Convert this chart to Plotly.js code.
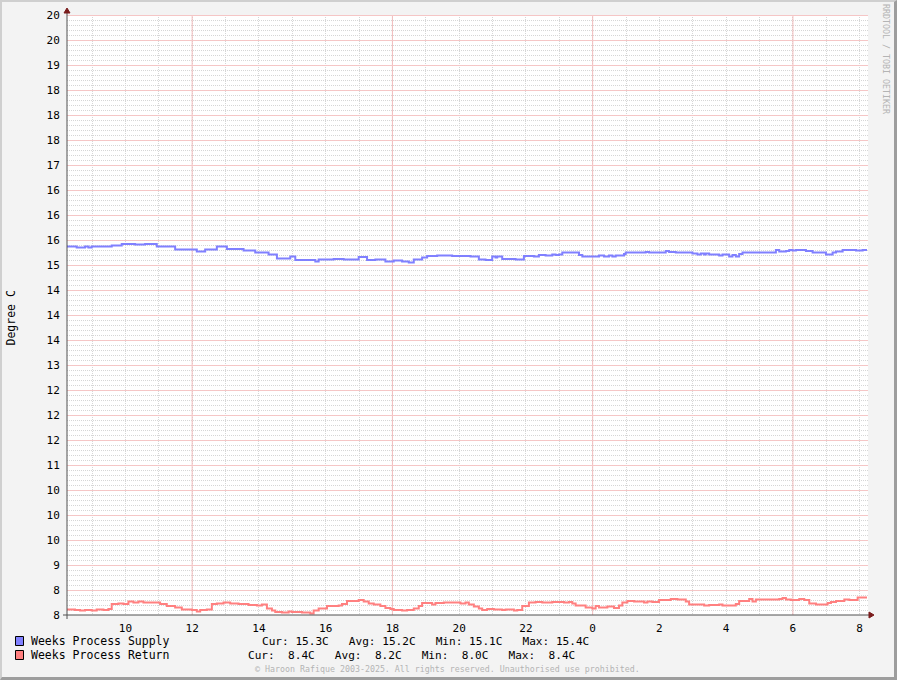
<!DOCTYPE html>
<html><head><meta charset="utf-8">
<script src="https://cdn.plot.ly/plotly-3.0.1.min.js"></script>
<style>
html,body{margin:0;padding:0;background:#f3f3f3;overflow:hidden;}
#wrap{position:relative;width:897px;height:680px;}
#chart{width:897px;height:680px;}
#frame{position:absolute;left:0;top:0;width:897px;height:680px;box-sizing:border-box;border-top:2px solid #cfcfcf;border-left:2px solid #cfcfcf;border-right:3px solid #9d9d9d;border-bottom:3px solid #9d9d9d;pointer-events:none;}
</style></head><body>
<div id="wrap"><div id="chart"></div><div id="frame"></div></div>
<script>
// ---- data (time in hours; 24 = midnight, 32 = 08:00 next day) ----
const supplyT = [8.25,8.54,8.79,8.89,8.99,9.59,9.89,10.29,10.59,10.94,11.49,12.14,12.39,12.74,13.04,13.54,13.89,14.29,14.54,14.94,15.09,15.69,15.79,16.24,16.54,16.99,17.24,17.49,17.79,18.04,18.29,18.49,18.64,18.89,19.04,19.34,19.79,20.34,20.59,20.79,20.99,21.09,21.14,21.29,21.69,21.94,22.24,22.39,22.59,22.79,22.89,22.99,23.09,23.59,23.69,24.19,24.34,24.49,24.59,24.69,24.94,24.99,25.59,25.69,26.19,26.29,26.49,26.99,27.14,27.24,27.34,27.39,27.49,27.79,27.89,28.09,28.19,28.29,28.39,28.49,29.49,29.59,29.79,29.89,29.99,30.09,30.39,30.59,30.99,31.19,31.29,31.49,31.89,32.09,32.22];
const supplyV = [15.37,15.35,15.37,15.35,15.37,15.39,15.42,15.41,15.42,15.37,15.31,15.27,15.31,15.37,15.32,15.29,15.25,15.21,15.13,15.17,15.10,15.07,15.11,15.12,15.11,15.16,15.10,15.11,15.07,15.09,15.07,15.05,15.11,15.15,15.18,15.19,15.18,15.17,15.11,15.10,15.17,15.15,15.17,15.12,15.11,15.18,15.17,15.20,15.19,15.21,15.20,15.21,15.25,15.20,15.17,15.19,15.17,15.19,15.17,15.19,15.22,15.25,15.26,15.25,15.28,15.26,15.25,15.23,15.21,15.23,15.21,15.23,15.21,15.19,15.21,15.17,15.20,15.17,15.22,15.25,15.30,15.27,15.28,15.30,15.29,15.30,15.28,15.25,15.21,15.25,15.27,15.30,15.29,15.30,15.30];
const returnT = [8.25,8.49,8.64,8.79,8.99,9.14,9.34,9.49,9.59,9.79,9.94,10.09,10.24,10.39,10.54,11.04,11.24,11.49,11.69,11.99,12.14,12.24,12.44,12.59,12.74,12.94,13.14,13.39,13.69,13.94,14.09,14.24,14.39,14.49,14.69,14.89,14.99,15.29,15.54,15.64,15.79,16.04,16.39,16.49,16.64,16.99,17.14,17.29,17.44,17.64,17.79,17.94,18.04,18.29,18.44,18.64,18.79,18.89,19.19,19.29,19.54,20.04,20.19,20.29,20.44,20.59,20.69,20.84,21.04,21.29,21.39,21.64,21.74,21.89,22.09,22.29,22.49,22.79,23.14,23.29,23.39,23.49,23.79,23.99,24.09,24.19,24.44,24.64,24.79,24.89,25.04,25.24,25.54,25.64,25.79,25.99,26.34,26.54,26.79,26.89,27.34,27.49,27.79,27.89,28.29,28.39,28.69,28.79,28.89,29.59,29.69,29.79,29.94,30.19,30.34,30.49,30.69,31.04,31.14,31.29,31.54,31.69,31.94,32.22];
const returnV = [8.11,8.10,8.09,8.10,8.09,8.11,8.10,8.12,8.22,8.23,8.22,8.27,8.25,8.27,8.25,8.22,8.18,8.15,8.11,8.10,8.07,8.10,8.11,8.22,8.23,8.25,8.23,8.22,8.20,8.19,8.21,8.13,8.09,8.06,8.05,8.07,8.06,8.05,8.03,8.09,8.13,8.18,8.19,8.22,8.28,8.30,8.27,8.23,8.21,8.18,8.14,8.12,8.10,8.09,8.10,8.13,8.18,8.24,8.21,8.24,8.25,8.23,8.25,8.21,8.17,8.13,8.10,8.12,8.11,8.10,8.11,8.09,8.10,8.18,8.25,8.26,8.25,8.26,8.25,8.26,8.23,8.19,8.15,8.13,8.18,8.15,8.17,8.14,8.19,8.25,8.28,8.27,8.25,8.27,8.26,8.30,8.32,8.31,8.27,8.21,8.19,8.20,8.21,8.19,8.22,8.28,8.32,8.27,8.31,8.32,8.34,8.31,8.30,8.32,8.30,8.23,8.21,8.24,8.26,8.28,8.31,8.30,8.35,8.35];

const seriesNames = ['Weeks Process Supply', 'Weeks Process Return'];
const seriesColors = ['#8080ff', '#ff8080'];
const statsText = ['Cur: 15.3C   Avg: 15.2C   Min: 15.1C   Max: 15.4C',
                   'Cur:  8.4C   Avg:  8.2C   Min:  8.0C   Max:  8.4C'];

const xTickVals = [10,12,14,16,18,20,22,24,26,28,30,32];
const xTickText = ['10','12','14','16','18','20','22','0','2','4','6','8'];
const xRedGrid = [12,18,24,30];
const yTickVals = [8,8.5,9,9.5,10,10.5,11,11.5,12,12.5,13,13.5,14,14.5,15,15.5,16,16.5,17,17.5,18,18.5,19,19.5,20];
const yTickText = ['8','8','9','10','10','10','11','12','12','12','13','14','14','14','15','16','16','16','17','18','18','18','19','20','20'];
const xRange = [8.25, 32.25];
const yRange = [8, 20];

// ---- layout helpers (pixel -> paper) ----
const L=67, R=868, T=15, B=615;
const px = x => (x-L)/(R-L);
const py = y => (B-y)/(B-T);
const nb = s => s.replace(/ /g, '\u00a0');
const MONO = 'DejaVu Sans Mono, monospace';
const RED_HGRID = '#f5c6c6';
const RED_VGRID = '#f2bcbc';
const GREY_GRID = '#d6d6d6';
const DOT = '1px,1px';
// snap a y value onto the centre of a pixel so 1px lines are crisp
const crispY = v => { const ky=(B-T)/(yRange[1]-yRange[0]); const p=B-(v-yRange[0])*ky; return yRange[0]+(B-(Math.round(p)+0.5))/ky; };

const traces = [
  {x: supplyT, y: supplyV, name: seriesNames[0], type:'scatter', mode:'lines',
   line:{shape:'hv', color:seriesColors[0], width:2}},
  {x: returnT, y: returnV, name: seriesNames[1], type:'scatter', mode:'lines',
   line:{shape:'hv', color:seriesColors[1], width:2}}
];

const shapes = [];
xRedGrid.forEach(h => shapes.push({type:'line', xref:'x', yref:'y', x0:h, x1:h, y0:yRange[0], y1:yRange[1], layer:'between',
  line:{color:RED_VGRID, width:1}}));
yTickVals.slice(1).forEach(v => shapes.push({type:'line', xref:'x', yref:'y', x0:xRange[0], x1:xRange[1], y0:crispY(v), y1:crispY(v), layer:'between',
  line:{color:RED_HGRID, width:1}}));
// axis lines
shapes.push({type:'line', xref:'paper', yref:'paper', x0:0, x1:0, y0:py(619), y1:py(11), line:{color:'#505050', width:1}});
shapes.push({type:'line', xref:'paper', yref:'paper', x0:px(63), x1:px(870), y0:0, y1:0, line:{color:'#505050', width:1}});
// arrows
shapes.push({type:'path', xref:'paper', yref:'paper', xsizemode:'pixel', ysizemode:'pixel', xanchor:0, yanchor:1,
  path:'M -3,2 L 3,2 L 0,7 Z', fillcolor:'#7a1c1c', line:{color:'#7a1c1c', width:1}});
shapes.push({type:'path', xref:'paper', yref:'paper', xsizemode:'pixel', ysizemode:'pixel', xanchor:1, yanchor:0,
  path:'M 1,3 L 1,-3 L 6,0 Z', fillcolor:'#7a1c1c', line:{color:'#7a1c1c', width:1}});
// legend swatches
[641, 655].forEach((cy, i) => shapes.push({type:'rect', xref:'paper', yref:'paper',
  x0:px(15.5), x1:px(23.5), y0:py(cy+4.5), y1:py(cy-4.5), fillcolor:seriesColors[i], line:{color:'#000', width:1}}));

const annotations = [
  {text:'Degree C', xref:'paper', yref:'paper', x:px(10.5), y:py(318), textangle:-90, showarrow:false,
   xanchor:'center', yanchor:'middle', font:{family:MONO, size:11.5, color:'#000'}},
  {text:nb('© Haroon Rafique 2003-2025. All rights reserved. Unauthorised use prohibited.'), xref:'paper', yref:'paper',
   x:px(447.5), y:py(669), showarrow:false, xanchor:'center', yanchor:'middle', font:{family:MONO, size:8.3, color:'#b4b4b4'}},
  {text:nb('RRDTOOL / TOBI OETIKER'), xref:'paper', yref:'paper', x:px(886), y:py(59), textangle:90, showarrow:false,
   xanchor:'center', yanchor:'middle', font:{family:MONO, size:8.3, color:'#b4b4b4'}}
];
[641, 655].forEach((cy, i) => {
  annotations.push({text:nb(seriesNames[i]), xref:'paper', yref:'paper', x:px(29), y:py(cy), showarrow:false,
    xanchor:'left', yanchor:'middle', font:{family:MONO, size:11.5, color:'#000'}});
  annotations.push({text:nb(statsText[i]), xref:'paper', yref:'paper', x:px(i===0?590.5:576.5), y:py(cy), showarrow:false,
    xanchor:'right', yanchor:'middle', font:{family:MONO, size:11.1, color:'#000'}});
});

const layout = {
  width:897, height:680,
  margin:{l:L, r:897-R, t:T, b:680-B, pad:0},
  paper_bgcolor:'#f3f3f3', plot_bgcolor:'#ffffff',
  showlegend:false,
  font:{family:MONO, size:11, color:'#000'},
  xaxis:{range:xRange, tickmode:'array', tickvals:xTickVals, ticktext:xTickText,
    showgrid:true, gridcolor:GREY_GRID, griddash:DOT, gridwidth:1,
    minor:{dtick:1, tick0:0, showgrid:true, gridcolor:GREY_GRID, griddash:DOT, gridwidth:1},
    ticks:'outside', ticklen:3, tickcolor:'rgba(0,0,0,0)', showline:false, zeroline:false,
    tickfont:{family:MONO, size:11, color:'#000'}},
  yaxis:{range:yRange, tickmode:'array', tickvals:yTickVals, ticktext:yTickText,
    showgrid:false,
    minor:{dtick:0.1, tick0:0, showgrid:true, gridcolor:GREY_GRID, griddash:DOT, gridwidth:1},
    ticks:'outside', ticklen:4, tickcolor:'rgba(0,0,0,0)', showline:false, zeroline:false,
    tickfont:{family:MONO, size:11, color:'#000'}},
  shapes:shapes, annotations:annotations
};
Plotly.newPlot('chart', traces, layout, {staticPlot:true, displayModeBar:false});
</script>
</body></html>
